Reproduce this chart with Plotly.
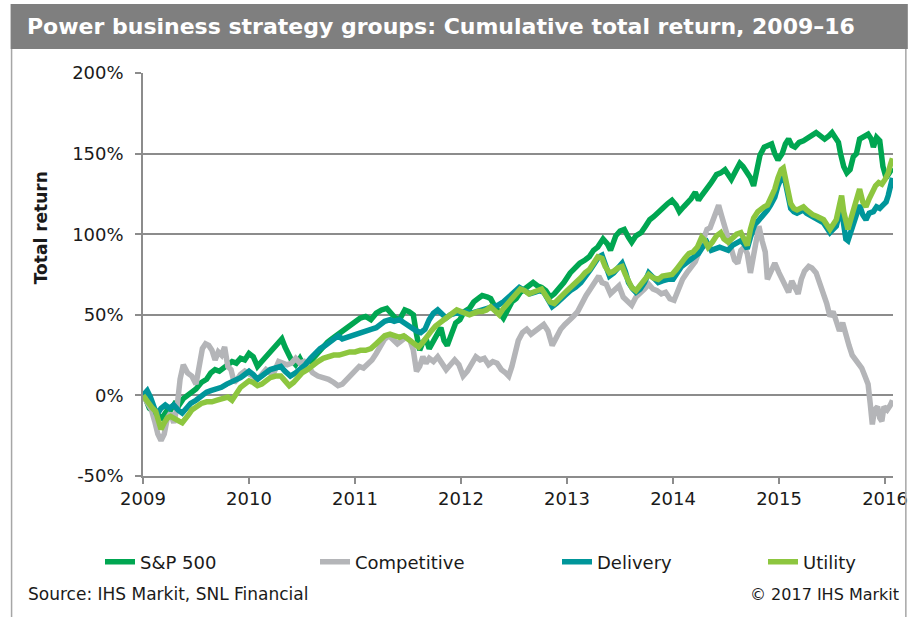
import plotly.graph_objects as go

# ---------------- data (decimal years, cumulative total return %) ----------------
sp_x = [2009.00,2009.03,2009.06,2009.10,2009.14,2009.18,2009.22,2009.26,2009.30,2009.34,2009.38,2009.42,2009.45,2009.50,2009.55,2009.60,2009.64,2009.68,2009.72,2009.76,2009.80,2009.84,2009.88,2009.92,2009.96,
        2010.00,2010.04,2010.08,2010.12,2010.16,2010.20,2010.24,2010.28,2010.31,2010.34,2010.37,2010.40,2010.44,2010.48,2010.52,2010.55,2010.58,2010.62,2010.66,2010.70,2010.74,2010.78,2010.82,2010.86,2010.90,2010.95,
        2011.00,2011.05,2011.10,2011.15,2011.20,2011.25,2011.30,2011.35,2011.38,2011.42,2011.47,2011.51,2011.55,2011.58,2011.61,2011.64,2011.67,2011.70,2011.74,2011.78,2011.81,2011.84,2011.87,2011.91,2011.95,2011.99,
        2012.03,2012.08,2012.12,2012.16,2012.20,2012.25,2012.28,2012.32,2012.36,2012.40,2012.44,2012.48,2012.52,2012.56,2012.60,2012.64,2012.68,2012.72,2012.76,2012.80,2012.84,2012.88,2012.92,2012.97,
        2013.03,2013.08,2013.12,2013.17,2013.21,2013.25,2013.29,2013.34,2013.38,2013.41,2013.46,2013.50,2013.54,2013.58,2013.61,2013.65,2013.70,2013.74,2013.78,2013.82,2013.86,2013.90,2013.95,2013.99,
        2014.03,2014.06,2014.10,2014.13,2014.17,2014.21,2014.24,2014.27,2014.31,2014.35,2014.38,2014.41,2014.45,2014.49,2014.52,2014.55,2014.59,2014.63,2014.66,2014.70,2014.73,2014.76,2014.79,2014.82,2014.86,2014.90,2014.93,2014.96,2014.99,
        2015.03,2015.06,2015.09,2015.12,2015.15,2015.19,2015.23,2015.27,2015.31,2015.35,2015.39,2015.43,2015.47,2015.50,2015.53,2015.56,2015.58,2015.61,2015.64,2015.67,2015.70,2015.73,2015.76,2015.80,2015.84,2015.87,2015.89,2015.92,2015.95,2015.98,
        2016.01,2016.04,2016.07]
sp_y = [0,-3,-8,-10,-12,-14,-10,-9,-5,-6,-2,0,2,4,8,10,14,16,15,17,18,21,20,23,22,
        26,24,18,21,24,27,30,33,35,30,26,22,19,23,18,17,21,24,28,31,33,35,37,39,40,43,
        45,48,49,47,51,53,54,50,48,47,53,52,50,38,28,33,35,29,34,40,42,34,31,38,45,47,
        52,54,58,60,62,61,60,55,52,48,53,58,60,64,66,68,70,68,67,65,61,63,66,70,
        76,80,82,84,86,90,92,97,94,90,99,102,103,98,95,99,101,105,109,111,113,116,119,121,
        118,114,117,119,122,126,121,124,127,131,134,137,138,140,137,134,139,144,142,138,135,130,142,149,154,155,156,150,146,
        150,156,159,155,154,157,158,160,161,163,161,159,161,163,160,157,150,142,138,140,148,150,159,161,162,159,154,160,158,142,
        135,138,141]

comp_x = [2009.00,2009.04,2009.08,2009.11,2009.14,2009.17,2009.20,2009.23,2009.26,2009.29,2009.32,2009.35,2009.38,2009.42,2009.46,2009.50,2009.53,2009.56,2009.59,2009.62,2009.65,2009.68,2009.71,2009.74,2009.77,2009.80,2009.83,2009.86,2009.89,2009.92,2009.96,
          2010.00,2010.04,2010.08,2010.12,2010.16,2010.20,2010.24,2010.28,2010.32,2010.36,2010.40,2010.44,2010.48,2010.52,2010.56,2010.60,2010.65,2010.70,2010.75,2010.80,2010.84,2010.88,2010.92,2010.96,
          2011.00,2011.04,2011.08,2011.12,2011.16,2011.20,2011.24,2011.28,2011.32,2011.36,2011.40,2011.44,2011.48,2011.52,2011.55,2011.58,2011.61,2011.64,2011.67,2011.70,2011.74,2011.78,2011.82,2011.86,2011.90,2011.94,2011.98,
          2012.02,2012.06,2012.10,2012.14,2012.18,2012.22,2012.26,2012.30,2012.34,2012.38,2012.42,2012.45,2012.48,2012.51,2012.54,2012.58,2012.62,2012.66,2012.70,2012.74,2012.78,2012.82,2012.86,2012.90,2012.94,2012.98,
          2013.02,2013.06,2013.10,2013.14,2013.18,2013.22,2013.26,2013.30,2013.33,2013.37,2013.41,2013.45,2013.49,2013.53,2013.57,2013.61,2013.65,2013.69,2013.73,2013.77,2013.81,2013.85,2013.89,2013.93,2013.97,
          2014.01,2014.05,2014.09,2014.13,2014.17,2014.21,2014.25,2014.29,2014.32,2014.35,2014.38,2014.41,2014.43,2014.46,2014.49,2014.52,2014.55,2014.58,2014.61,2014.64,2014.67,2014.70,2014.73,2014.76,2014.79,2014.81,2014.84,2014.87,2014.89,2014.92,2014.96,
          2015.00,2015.03,2015.06,2015.09,2015.12,2015.15,2015.18,2015.21,2015.24,2015.28,2015.31,2015.35,2015.39,2015.42,2015.45,2015.48,2015.51,2015.54,2015.57,2015.60,2015.63,2015.66,2015.69,2015.72,2015.75,2015.78,2015.81,2015.84,2015.86,2015.88,2015.90,2015.93,2015.95,2015.97,2015.99,
          2016.02,2016.05,2016.07]
comp_y = [0,-4,-9,-16,-24,-28,-24,-14,-11,-17,-8,10,19,14,12,7,20,29,32,31,28,22,27,25,30,18,16,8,10,13,15,
          13,11,10,13,16,14,15,21,20,19,20,23,20,21,18,14,12,11,10,8,6,7,10,12,
          16,18,17,19,22,26,30,35,37,35,32,34,36,34,28,15,18,24,20,23,21,24,20,16,19,22,19,
          12,15,20,24,22,23,19,21,20,16,14,12,18,27,34,39,41,38,40,42,44,40,31,36,41,44,
          46,49,52,58,62,66,70,74,70,69,63,66,68,61,58,56,61,63,66,69,66,65,63,64,60,
          59,66,72,76,79,83,90,97,103,104,110,116,118,111,104,96,88,84,82,90,92,88,76,86,99,105,96,89,72,76,82,
          76,72,68,64,71,66,63,72,77,80,79,76,69,63,57,49,52,46,40,45,37,31,25,22,20,17,12,7,-5,-18,-9,-7,-14,-16,-7,
          -9,-6,-3]

del_x = [2009.00,2009.02,2009.04,2009.07,2009.10,2009.13,2009.17,2009.21,2009.25,2009.29,2009.33,2009.37,2009.41,2009.45,2009.50,2009.55,2009.60,2009.64,2009.69,2009.74,2009.79,2009.83,2009.88,2009.92,2009.96,
         2010.00,2010.04,2010.08,2010.12,2010.16,2010.20,2010.25,2010.30,2010.34,2010.39,2010.44,2010.48,2010.53,2010.58,2010.62,2010.67,2010.72,2010.76,2010.80,2010.84,2010.88,2010.92,2010.96,
         2011.00,2011.05,2011.10,2011.15,2011.20,2011.24,2011.28,2011.33,2011.37,2011.42,2011.46,2011.50,2011.54,2011.58,2011.62,2011.66,2011.70,2011.74,2011.78,2011.82,2011.86,2011.90,2011.95,
         2012.00,2012.05,2012.10,2012.15,2012.20,2012.25,2012.30,2012.35,2012.40,2012.45,2012.50,2012.55,2012.60,2012.65,2012.70,2012.74,2012.78,2012.82,2012.86,2012.90,2012.94,2012.98,
         2013.03,2013.08,2013.13,2013.18,2013.22,2013.26,2013.30,2013.33,2013.36,2013.40,2013.44,2013.48,2013.52,2013.55,2013.58,2013.62,2013.65,2013.69,2013.73,2013.77,2013.81,2013.86,2013.90,2013.95,
         2014.00,2014.04,2014.08,2014.12,2014.16,2014.20,2014.24,2014.28,2014.32,2014.36,2014.40,2014.44,2014.48,2014.52,2014.56,2014.60,2014.64,2014.67,2014.70,2014.73,2014.77,2014.80,2014.83,2014.86,2014.89,2014.92,2014.96,2014.99,
         2015.02,2015.04,2015.06,2015.08,2015.11,2015.14,2015.17,2015.20,2015.23,2015.26,2015.29,2015.32,2015.36,2015.39,2015.42,2015.45,2015.48,2015.51,2015.54,2015.57,2015.59,2015.61,2015.63,2015.65,2015.68,2015.71,2015.74,2015.76,2015.79,2015.82,2015.85,2015.89,2015.92,2015.95,2015.98,
         2016.01,2016.03,2016.05,2016.07]
del_y = [0,2,3,-1,-6,-12,-8,-6,-8,-6,-9,-11,-8,-5,-3,0,2,3,4,5,7,8,10,11,13,
         15,13,10,12,14,16,17,18,15,12,14,16,19,23,26,29,31,33,36,37,35,36,37,
         38,39,40,41,42,44,46,47,46,47,45,43,42,40,39,41,47,51,53,50,48,50,51,
         51,52,51,52,53,54,55,56,58,61,63,67,65,63,64,65,64,60,55,57,59,62,
         65,67,70,74,78,82,86,87,81,74,76,79,82,77,70,66,64,66,70,76,73,70,71,72,
         72,76,80,82,84,86,88,92,95,90,91,92,91,90,93,95,96,94,91,98,106,108,110,112,115,118,123,130,
         136,138,132,124,116,114,113,114,115,113,112,111,109,108,107,104,101,103,105,113,115,106,97,96,102,107,114,118,112,109,113,114,117,116,118,
         120,124,130,135]

util_x = [2009.00,2009.03,2009.06,2009.09,2009.12,2009.15,2009.17,2009.20,2009.23,2009.26,2009.30,2009.34,2009.37,2009.40,2009.43,2009.46,2009.50,2009.55,2009.60,2009.65,2009.70,2009.75,2009.80,2009.84,2009.88,2009.92,2009.96,
          2010.00,2010.04,2010.08,2010.12,2010.16,2010.20,2010.25,2010.30,2010.34,2010.38,2010.42,2010.46,2010.50,2010.55,2010.60,2010.65,2010.70,2010.75,2010.80,2010.85,2010.90,2010.95,
          2011.00,2011.05,2011.10,2011.15,2011.20,2011.24,2011.28,2011.33,2011.38,2011.42,2011.46,2011.50,2011.54,2011.57,2011.60,2011.64,2011.68,2011.72,2011.76,2011.80,2011.84,2011.88,2011.92,2011.96,
          2012.00,2012.04,2012.08,2012.12,2012.16,2012.20,2012.24,2012.28,2012.32,2012.36,2012.40,2012.44,2012.48,2012.52,2012.56,2012.60,2012.64,2012.68,2012.72,2012.76,2012.80,2012.84,2012.88,2012.92,2012.96,
          2013.00,2013.05,2013.09,2013.13,2013.17,2013.21,2013.25,2013.29,2013.33,2013.36,2013.40,2013.44,2013.48,2013.52,2013.55,2013.58,2013.61,2013.65,2013.69,2013.73,2013.77,2013.81,2013.86,2013.90,2013.95,2013.99,
          2014.03,2014.07,2014.11,2014.15,2014.19,2014.23,2014.27,2014.30,2014.33,2014.37,2014.41,2014.45,2014.48,2014.52,2014.56,2014.60,2014.64,2014.67,2014.70,2014.73,2014.76,2014.80,2014.83,2014.86,2014.89,2014.92,2014.96,2014.99,
          2015.02,2015.04,2015.06,2015.08,2015.11,2015.14,2015.17,2015.20,2015.23,2015.26,2015.29,2015.32,2015.36,2015.39,2015.42,2015.45,2015.48,2015.51,2015.54,2015.57,2015.59,2015.61,2015.63,2015.65,2015.68,2015.71,2015.74,2015.76,2015.79,2015.82,2015.85,2015.88,2015.91,2015.94,2015.97,
          2016.00,2016.03,2016.05,2016.07]
util_y = [0,-3,-6,-8,-10,-18,-21,-17,-14,-13,-15,-16,-17,-15,-12,-9,-7,-5,-4,-4,-3,-2,-1,-3,1,5,7,
          9,8,6,7,9,11,12,12,9,6,8,11,14,16,19,21,23,24,25,25,26,27,
          27,28,28,29,32,35,37,38,37,36,37,35,33,31,30,33,37,40,43,45,47,48,51,53,
          52,51,50,51,52,52,53,55,52,50,54,57,59,62,66,65,63,64,65,66,62,58,57,60,62,
          65,68,70,73,76,78,82,86,85,80,76,77,79,80,75,70,67,65,68,72,75,73,72,74,75,75,
          78,82,85,88,89,92,98,96,92,95,99,101,97,95,98,100,101,96,93,103,110,114,116,117,118,122,128,135,
          140,141,134,127,119,116,115,116,117,115,113,112,111,110,109,106,103,106,109,118,124,114,108,103,110,118,125,128,120,117,122,126,130,132,131,
          134,138,143,147]

series_names = ["S&P 500", "Competitive", "Delivery", "Utility"]
series_colors = ["#00A651", "#B4B5B8", "#00969A", "#8DC63F"]
y_tickvals = [-50, 0, 50, 100, 150, 200]
y_ticktext = ["-50%", "0%", "50%", "100%", "150%", "200%"]
x_tickvals = [2009, 2010, 2011, 2012, 2013, 2014, 2015, 2016]
x_ticktext = ["2009", "2010", "2011", "2012", "2013", "2014", "2015", "2016"]

# ---------------- layout geometry (pixels) ----------------
W, H = 920, 617
L, R, T, B = 143, 902, 73, 476
def px(x):
    return (x - L) / (R - L)
def py(y):
    return (B - y) / (B - T)

FONT = "DejaVu Sans, Liberation Sans, Arial, sans-serif"
TXT = "#1a1a1a"

fig = go.Figure()
xs = [sp_x, comp_x, del_x, util_x]
ys = [sp_y, comp_y, del_y, util_y]
legend_ids = ["legend", "legend2", "legend3", "legend4"]
for name, color, xv, yv, lg in zip(series_names, series_colors, xs, ys, legend_ids):
    fig.add_trace(go.Scatter(x=xv, y=yv, mode="lines", name=name,
                             line=dict(color=color, width=5.5, shape="linear"),
                             legend=lg, hoverinfo="skip"))

legend_text_x = [140, 355, 597, 803]
leg = {}
for lg, tx in zip(legend_ids, legend_text_x):
    leg[lg] = dict(xref="container", yref="container", x=(tx - 40) / W, y=1 - 562 / H,
                   xanchor="left", yanchor="middle", orientation="h",
                   bgcolor="rgba(0,0,0,0)", font=dict(family=FONT, size=18, color=TXT),
                   itemwidth=30, tracegroupgap=0)

fig.update_layout(
    width=W, height=H,
    margin=dict(l=L, r=W - R, t=T, b=H - B, pad=0),
    paper_bgcolor="white", plot_bgcolor="white",
    showlegend=True,
    **leg,
    xaxis=dict(range=[2009, 2016.075], tickvals=x_tickvals, ticktext=x_ticktext,
               showgrid=False, zeroline=False, showline=True, linecolor="#8c8c8c", linewidth=1.5,
               ticks="outside", ticklen=6, tickcolor="#8c8c8c", tickwidth=1.5,
               tickfont=dict(family=FONT, size=18, color=TXT)),
    yaxis=dict(range=[-50, 200], tickvals=y_tickvals, ticktext=y_ticktext,
               showgrid=True, gridcolor="#8c8c8c", gridwidth=1.5, zeroline=False,
               showline=True, linecolor="#8c8c8c", linewidth=1.5,
               ticks="outside", ticklen=6, tickcolor="#8c8c8c", tickwidth=1.5,
               ticklabelstandoff=8,
               tickfont=dict(family=FONT, size=18, color=TXT)),
    title=dict(text="<b>Power business strategy groups: Cumulative total return, 2009–16</b>",
               xref="container", yref="container", x=27 / W, y=1 - 26 / H,
               xanchor="left", yanchor="middle",
               font=dict(family=FONT, size=22, color="white")),
)

# title bar and frame
fig.add_shape(type="rect", xref="paper", yref="paper", x0=px(9), x1=px(917), y0=py(49), y1=py(4),
              fillcolor="#7f7f7f", line=dict(width=0), layer="below")
for fx in (10, 915):
    fig.add_shape(type="line", xref="paper", yref="paper", x0=px(fx), x1=px(fx), y0=py(49), y1=py(617),
                  line=dict(color="#a6a6a6", width=1.5))

fig.add_annotation(text="<b>Total return</b>", xref="paper", yref="paper", x=px(40), y=py(228),
                   textangle=-90, showarrow=False, xanchor="center", yanchor="middle",
                   font=dict(family=FONT, size=17, color=TXT))
fig.add_annotation(text="Source: IHS Markit, SNL Financial", xref="paper", yref="paper",
                   x=px(25), y=py(594), xanchor="left", yanchor="middle", showarrow=False,
                   font=dict(family=FONT, size=17, color=TXT))
fig.add_annotation(text="© 2017 IHS Markit", xref="paper", yref="paper",
                   x=px(910), y=py(594), xanchor="right", yanchor="middle", showarrow=False,
                   font=dict(family=FONT, size=16, color=TXT))

fig.write_html("out.html", config={"displayModeBar": False},
               post_script="document.body.style.margin='0px';")
